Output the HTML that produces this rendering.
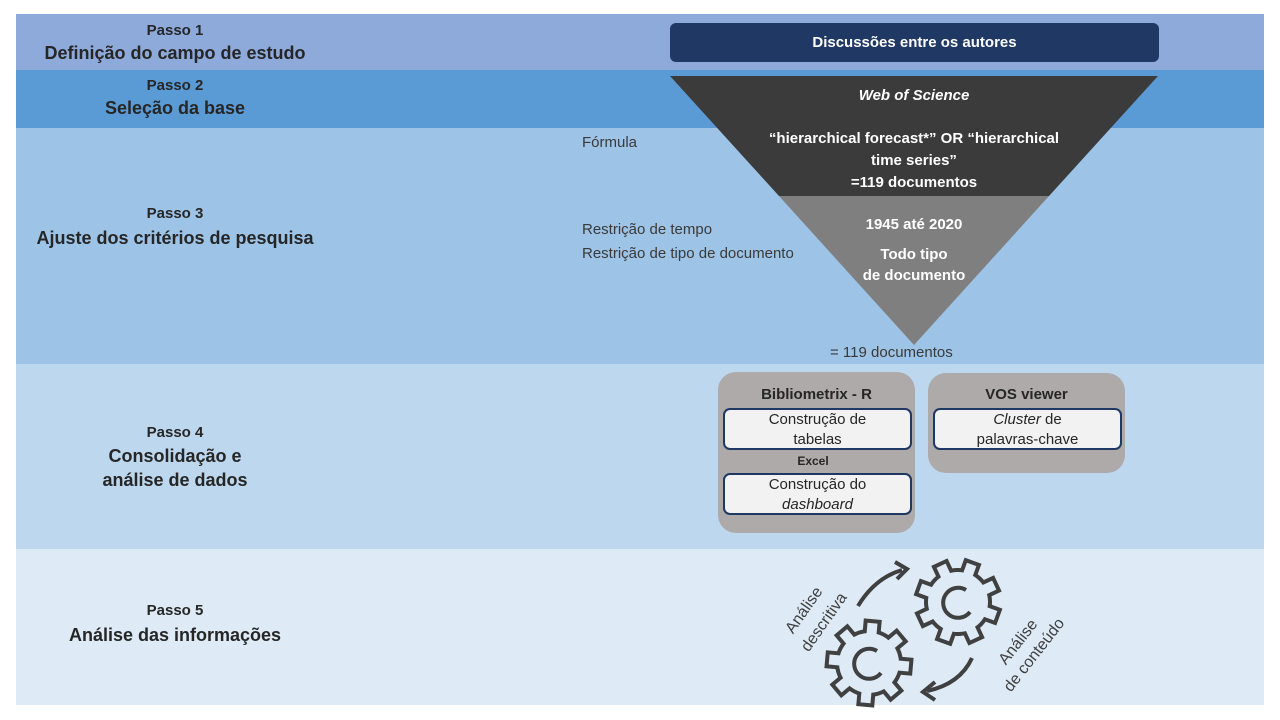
<!DOCTYPE html><html><head><meta charset="utf-8"><style>
body{margin:0;width:1280px;height:720px;background:#fff;position:relative;font-family:"Liberation Sans",sans-serif;overflow:hidden}
.b{position:absolute;left:16px;width:1248px}
.t{position:absolute;text-align:center;color:#262626;font-weight:bold}
.a{position:absolute;color:#3a3a3a;font-size:15px}
.box{position:absolute;background:#aeaaaa;border-radius:18px}
.in{position:absolute;background:#f2f2f2;border:2px solid #1f3864;border-radius:7px;text-align:center;font-size:15px;color:#262626;line-height:20px}
</style></head><body>
<div class="b" style="top:14px;height:56px;background:#8eaadb"></div>
<div class="b" style="top:70px;height:58px;background:#5b9bd5"></div>
<div class="b" style="top:128px;height:236px;background:#9dc3e6"></div>
<div class="b" style="top:364px;height:185px;background:#bdd7ee"></div>
<div class="b" style="top:549px;height:156px;background:#deebf7"></div>

<div class="t" style="left:20px;width:310px;top:22px;font-size:15px">Passo 1</div>
<div class="t" style="left:20px;width:310px;top:43px;font-size:18px">Definição do campo de estudo</div>
<div class="t" style="left:20px;width:310px;top:77px;font-size:15px">Passo 2</div>
<div class="t" style="left:20px;width:310px;top:98px;font-size:18px">Seleção da base</div>
<div class="t" style="left:20px;width:310px;top:205px;font-size:15px">Passo 3</div>
<div class="t" style="left:20px;width:310px;top:228px;font-size:18px">Ajuste dos critérios de pesquisa</div>
<div class="t" style="left:20px;width:310px;top:424px;font-size:15px">Passo 4</div>
<div class="t" style="left:20px;width:310px;top:444px;font-size:18px;line-height:24px">Consolidação e<br>análise de dados</div>
<div class="t" style="left:20px;width:310px;top:602px;font-size:15px">Passo 5</div>
<div class="t" style="left:20px;width:310px;top:625px;font-size:18px">Análise das informações</div>

<div style="position:absolute;left:670px;top:23px;width:489px;height:39px;background:#1f3864;border-radius:6px;color:#fff;font-weight:bold;font-size:15px;text-align:center;line-height:39px">Discussões entre os autores</div>

<svg style="position:absolute;left:0;top:0" width="1280" height="720">
<polygon points="670,76 1158,76 1049,196 779,196" fill="#3b3b3b"/>
<polygon points="779,196 1049,196 914,345" fill="#7f7f7f"/>
</svg>
<div class="t" style="left:780px;width:268px;top:87px;color:#fff;font-size:15px;font-style:italic">Web of Science</div>
<div class="t" style="left:740px;width:348px;top:128px;color:#fff;font-size:15px;line-height:22px">“hierarchical forecast*” OR “hierarchical<br>time series”<br>=119 documentos</div>
<div class="t" style="left:814px;width:200px;top:216px;color:#fff;font-size:15px">1945 até 2020</div>
<div class="t" style="left:814px;width:200px;top:244px;color:#fff;font-size:15px;line-height:21px">Todo tipo<br>de documento</div>
<div class="a" style="left:582px;top:134px">Fórmula</div>
<div class="a" style="left:582px;top:221px">Restrição de tempo</div>
<div class="a" style="left:582px;top:245px">Restrição de tipo de documento</div>
<div class="a" style="left:830px;top:344px">= 119 documentos</div>

<div class="box" style="left:718px;top:372px;width:197px;height:161px"></div>
<div class="t" style="left:718px;width:197px;top:386px;font-size:15px">Bibliometrix - R</div>
<div class="in" style="left:723px;top:408px;width:185px;height:38px">Construção de<br>tabelas</div>
<div class="t" style="left:718px;width:190px;top:454px;font-size:12px">Excel</div>
<div class="in" style="left:723px;top:473px;width:185px;height:38px">Construção do<br><i>dashboard</i></div>
<div class="box" style="left:928px;top:373px;width:197px;height:100px"></div>
<div class="t" style="left:928px;width:197px;top:386px;font-size:15px">VOS viewer</div>
<div class="in" style="left:933px;top:408px;width:185px;height:38px"><i>Cluster</i> de<br>palavras-chave</div>

<svg style="position:absolute;left:0;top:0" width="1280" height="720" fill="none" stroke="#404040">
<defs>
<g id="gear">
<g fill="#404040" stroke="none">
<circle r="34"/>
<rect x="-9" y="-44" width="18" height="16" transform="rotate(0)"/>
<rect x="-9" y="-44" width="18" height="16" transform="rotate(45)"/>
<rect x="-9" y="-44" width="18" height="16" transform="rotate(90)"/>
<rect x="-9" y="-44" width="18" height="16" transform="rotate(135)"/>
<rect x="-9" y="-44" width="18" height="16" transform="rotate(180)"/>
<rect x="-9" y="-44" width="18" height="16" transform="rotate(225)"/>
<rect x="-9" y="-44" width="18" height="16" transform="rotate(270)"/>
<rect x="-9" y="-44" width="18" height="16" transform="rotate(315)"/>
</g>
<g fill="#deebf7" stroke="none">
<circle r="30"/>
<rect x="-5" y="-40" width="10" height="14" transform="rotate(0)"/>
<rect x="-5" y="-40" width="10" height="14" transform="rotate(45)"/>
<rect x="-5" y="-40" width="10" height="14" transform="rotate(90)"/>
<rect x="-5" y="-40" width="10" height="14" transform="rotate(135)"/>
<rect x="-5" y="-40" width="10" height="14" transform="rotate(180)"/>
<rect x="-5" y="-40" width="10" height="14" transform="rotate(225)"/>
<rect x="-5" y="-40" width="10" height="14" transform="rotate(270)"/>
<rect x="-5" y="-40" width="10" height="14" transform="rotate(315)"/>
</g>
</g>
</defs>
<use href="#gear" transform="translate(958,602) rotate(20)"/>
<path d="M966,590 A15,15 0 1 0 970,612" stroke-width="4" fill="none"/>
<use href="#gear" transform="translate(869,663) rotate(5)"/>
<path d="M877,651 A15,15 0 1 0 881,673" stroke-width="4" fill="none"/>
<path d="M858,606 Q875,578 902,570" stroke-width="4"/>
<polyline points="895,562 907,569 897,579" stroke-width="4"/>
<path d="M972,658 Q960,684 927,691" stroke-width="4"/>
<polyline points="935,682 923,692 935,700" stroke-width="4"/>
<g font-family="Liberation Sans" font-size="16" fill="#404040" stroke="none" text-anchor="middle">
<text transform="translate(808,613) rotate(-55)">Análise</text>
<text transform="translate(828,625) rotate(-55)">descritiva</text>
<text transform="translate(1022,645) rotate(-52)">Análise</text>
<text transform="translate(1038,658) rotate(-52)">de conteúdo</text>
</g>
</svg>
</body></html>
